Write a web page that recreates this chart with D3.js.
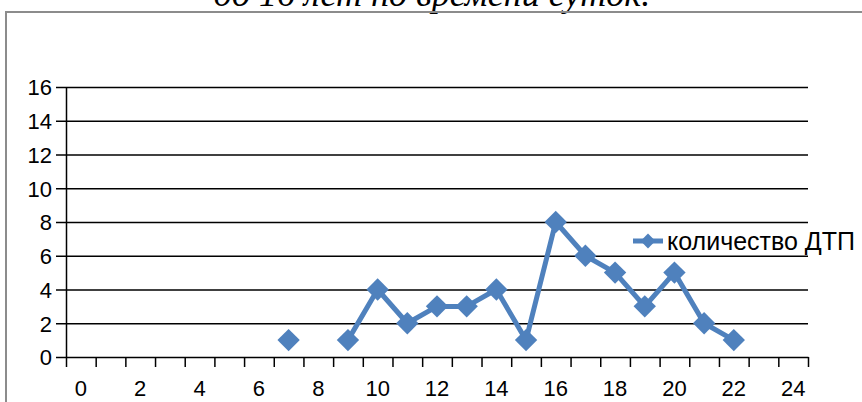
<!DOCTYPE html>
<html>
<head>
<meta charset="utf-8">
<script src="https://cdn.jsdelivr.net/npm/d3@7"></script>
<style>
  body { margin: 0; background: #fff; }
  svg text { font-family: "Liberation Sans", Arial, sans-serif; fill: #000; }
</style>
</head>
<body>
<div id="chart"></div>
<script>
const width = 862;
const height = 402;

// hours of day (categories) and accident counts, null = no value
const hours = d3.range(0, 25);
const counts = [null, null, null, null, null, null, null, 1, null, 1, 4, 2, 3, 3, 4, 1, 8, 6, 5, 3, 5, 2, 1, null, null];
const yTicks = [0, 2, 4, 6, 8, 10, 12, 14, 16];
const xLabels = [0, 2, 4, 6, 8, 10, 12, 14, 16, 18, 20, 22, 24];
const seriesName = "количество ДТП";
const title = "до 16 лет по времени суток.";

const plotLeft = 66, plotRight = 808, plotTop = 87, plotBottom = 357;
const blue = "#4f81bd";

const svg = d3.select("#chart")
    .append("svg")
    .attr("width", width)
    .attr("height", height);

// title, cut off at the top like in the document
svg.append("text")
    .attr("x", 432)
    .attr("y", 6)
    .attr("text-anchor", "middle")
    .style("font-family", "'Liberation Serif', 'Times New Roman', serif")
    .style("font-style", "italic")
    .style("font-size", "36px")
    .text(title);

// chart frame
svg.append("rect")
    .attr("x", 6)
    .attr("y", 12)
    .attr("width", 900)
    .attr("height", 500)
    .attr("fill", "none")
    .attr("stroke", "#8c8c8c")
    .attr("stroke-width", 2);

const x = d3.scaleBand()
    .domain(hours)
    .range([plotLeft, plotRight]);

const xEdges = d3.scaleLinear()
    .domain([0, hours.length])
    .range([plotLeft, plotRight]);

const y = d3.scaleLinear()
    .domain([0, 16])
    .range([plotBottom, plotTop]);

// gridlines
svg.append("g")
    .attr("transform", `translate(${plotLeft}, 0)`)
    .call(d3.axisLeft(y).tickValues(yTicks.slice(1)).tickSize(-(plotRight - plotLeft)).tickFormat(""))
    .call(g => g.select(".domain").remove())
    .call(g => g.selectAll("line").attr("stroke", "#000").attr("stroke-width", 1.5));

// y axis
svg.append("g")
    .attr("transform", `translate(${plotLeft}, 0)`)
    .call(d3.axisLeft(y).tickValues(yTicks).tickSize(10).tickPadding(4).tickSizeOuter(0))
    .call(g => g.select(".domain").attr("stroke-width", 1.5))
    .call(g => g.selectAll("line").attr("stroke-width", 1.5))
    .call(g => g.selectAll("text").style("font-size", "22px").attr("dy", "0.36em"));

// x axis tick marks between categories
svg.append("g")
    .attr("transform", `translate(0, ${plotBottom})`)
    .call(d3.axisBottom(xEdges).tickValues(d3.range(hours.length + 1)).tickSize(10).tickFormat("").tickSizeOuter(0))
    .call(g => g.select(".domain").attr("stroke-width", 1.5))
    .call(g => g.selectAll("line").attr("stroke-width", 1.5));

// x labels at category centres
svg.append("g")
    .attr("transform", `translate(0, ${plotBottom})`)
    .call(d3.axisBottom(x).tickValues(xLabels).tickSize(0).tickPadding(23))
    .call(g => g.select(".domain").remove())
    .call(g => g.selectAll("text").style("font-size", "22px"));

const line = d3.line()
    .defined(d => d != null)
    .x((d, i) => x(hours[i]) + x.bandwidth() / 2)
    .y(d => y(d));

svg.append("path")
    .datum(counts)
    .attr("fill", "none")
    .attr("stroke", blue)
    .attr("stroke-width", 5)
    .attr("stroke-linejoin", "round")
    .attr("d", line);

const diamond = d3.symbol().type(d3.symbolSquare).size(250);

svg.append("g")
    .selectAll("path")
    .data(counts.map((v, i) => ({ hour: hours[i], value: v })).filter(d => d.value != null))
    .join("path")
    .attr("d", diamond)
    .attr("fill", blue)
    .attr("transform", d => `translate(${x(d.hour) + x.bandwidth() / 2}, ${y(d.value)}) rotate(45)`);

// legend
const legend = svg.append("g").attr("transform", "translate(633, 241)");
legend.append("line")
    .attr("x1", 0).attr("x2", 30)
    .attr("stroke", blue)
    .attr("stroke-width", 5);
legend.append("path")
    .attr("d", d3.symbol().type(d3.symbolSquare).size(110))
    .attr("fill", blue)
    .attr("transform", "translate(15, 0) rotate(45)");
legend.append("text")
    .attr("x", 34)
    .attr("dy", "0.36em")
    .style("font-size", "25px")
    .text(seriesName);
</script>
</body>
</html>
